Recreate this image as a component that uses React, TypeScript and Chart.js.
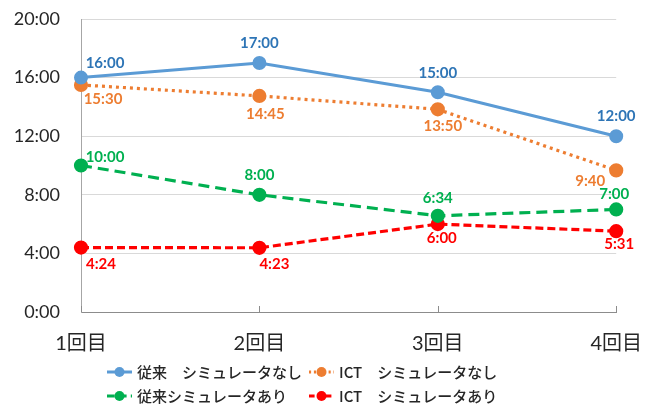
import React, { useEffect, useRef } from "react";
import { Chart, registerables } from "chart.js";

Chart.register(...registerables);

// ---- data ----
const categories = ["1回目", "2回目", "3回目", "4回目"];
const seriesNames = [
  "従来　シミュレータなし",
  "ICT　シミュレータなし",
  "従来シミュレータあり",
  "ICT　シミュレータあり",
];
const conventionalNoSim = ["16:00", "17:00", "15:00", "12:00"];
const ictNoSim = ["15:30", "14:45", "13:50", "9:40"];
const conventionalSim = ["10:00", "8:00", "6:34", "7:00"];
const ictSim = ["4:24", "4:23", "6:00", "5:31"];
const yTicks = [0, 4, 8, 12, 16, 20];

// ---- styles ----
const lineColors = ["#5B9BD5", "#ED7D31", "#00B050", "#FF0000"];
const labelColors = ["#2E75B6", "#ED7D31", "#00B050", "#FF0000"];
const dashes: number[][] = [[], [3, 4], [11, 6], [8, 4]];
const labelOffsets: number[][][] = [
  [[24, -14], [0, -20], [0, -19], [0, -20]],
  [[22, 14], [6, 18], [5, 17], [-26, 11]],
  [[24, -8], [0, -20], [0, -18], [-2, -15]],
  [[20, 17], [15, 16], [4, 14], [3, 13]],
];
const legendPos = [
  [107, 372],
  [309, 372],
  [107, 396],
  [309, 396],
];

const toMin = (s: string) => {
  const [m, sec] = s.split(":").map(Number);
  return m + sec / 60;
};

const allSeries = [conventionalNoSim, ictNoSim, conventionalSim, ictSim];
const NUM_FONT = "Lato, 'Noto Sans CJK JP', sans-serif";
const JP_FONT = "'Noto Sans CJK JP', sans-serif";

const plugin = {
  id: "custom",
  afterDraw(chart: any) {
    const ctx = chart.ctx as CanvasRenderingContext2D;
    const area = chart.chartArea;
    const xs = chart.scales.x;
    // inner tick marks on x axis
    ctx.save();
    ctx.strokeStyle = "#8c8c8c";
    ctx.lineWidth = 1;
    categories.forEach((_, i) => {
      const x = Math.round(xs.getPixelForValue(i)) + 0.5;
      ctx.beginPath();
      ctx.moveTo(x, area.bottom - 6);
      ctx.lineTo(x, area.bottom);
      ctx.stroke();
    });
    ctx.restore();

    // data labels
    ctx.save();
    ctx.font = `bold 15px ${NUM_FONT}`;
    ctx.textAlign = "center";
    ctx.textBaseline = "middle";
    chart.data.datasets.forEach((ds: any, di: number) => {
      const meta = chart.getDatasetMeta(di);
      meta.data.forEach((pt: any, i: number) => {
        const [dx, dy] = labelOffsets[di][i];
        ctx.fillStyle = labelColors[di];
        ctx.fillText(allSeries[di][i], pt.x + dx, pt.y + dy);
      });
    });
    ctx.restore();

    // legend
    ctx.save();
    seriesNames.forEach((name, i) => {
      const [x0, y] = legendPos[i];
      ctx.strokeStyle = lineColors[i];
      ctx.lineWidth = 3;
      ctx.setLineDash(dashes[i].length ? dashes[i].map((d) => d * 0.7) : []);
      ctx.beginPath();
      ctx.moveTo(x0, y);
      ctx.lineTo(x0 + 25, y);
      ctx.stroke();
      ctx.setLineDash([]);
      ctx.fillStyle = lineColors[i];
      ctx.beginPath();
      ctx.arc(x0 + 12.5, y, 5, 0, Math.PI * 2);
      ctx.fill();
      ctx.fillStyle = "#262626";
      ctx.font = `500 15px ${JP_FONT}`;
      ctx.textAlign = "left";
      ctx.textBaseline = "middle";
      ctx.fillText(name, x0 + 30, y);
    });
    ctx.restore();
  },
};

export default function App() {
  const ref = useRef<HTMLCanvasElement>(null);
  useEffect(() => {
    document.body.style.margin = "0";
    const chart = new Chart(ref.current!, {
      type: "line",
      data: {
        labels: categories,
        datasets: allSeries.map((s, i) => ({
          label: seriesNames[i],
          data: s.map(toMin),
          borderColor: lineColors[i],
          backgroundColor: lineColors[i],
          pointBackgroundColor: lineColors[i],
          pointBorderColor: lineColors[i],
          borderWidth: i === 0 ? 3 : 3.2,
          borderDash: dashes[i],
          pointRadius: 5.5,
          pointHoverRadius: 5.5,
          tension: 0,
          fill: false,
        })),
      },
      options: {
        responsive: false,
        animation: false,
        layout: { padding: { left: 0, top: 19, right: 40, bottom: 50 } },
        plugins: {
          legend: { display: false },
          tooltip: { enabled: false },
        },
        scales: {
          x: {
            offset: false,
            grid: { display: false, drawTicks: false },
            border: { display: true, color: "#8c8c8c", width: 1 },
            ticks: {
              padding: 20,
              color: "#262626",
              font: { family: NUM_FONT, size: 20 },
              maxRotation: 0,
            },
            afterFit: (s: any) => {
              s.height = 45;
            },
          },
          y: {
            min: 0,
            max: 20,
            afterBuildTicks: (s: any) => {
              s.ticks = yTicks.map((v) => ({ value: v }));
            },
            grid: { color: "#d9d9d9", drawTicks: false },
            border: { display: true, color: "#a6a6a6", width: 1 },
            ticks: {
              padding: 21,
              color: "#262626",
              font: { family: NUM_FONT, size: 18 },
              callback: (v: any) => `${v}:00`,
            },
            afterFit: (s: any) => {
              s.width = 81;
              s.paddingTop = 0;
              s.paddingBottom = 0;
            },
          },
        },
      },
      plugins: [plugin],
    });
    return () => chart.destroy();
  }, []);
  return (
    <div style={{ width: 662, height: 407 }}>
      <canvas ref={ref} width={662} height={407} />
    </div>
  );
}
